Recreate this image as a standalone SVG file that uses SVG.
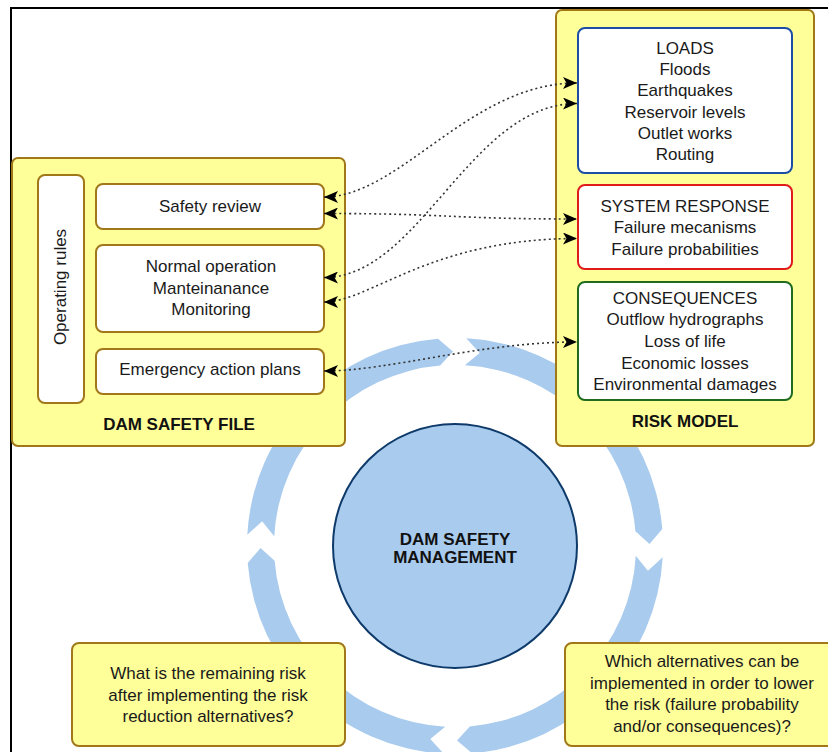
<svg xmlns="http://www.w3.org/2000/svg" xmlns:xlink="http://www.w3.org/1999/xlink" width="828" height="752" viewBox="0 0 828 752">
<style>
  .cont{fill:#FFFF99;stroke:#A0781A;stroke-width:2}
  .box{fill:#FFFFFF;stroke:#A0781A;stroke-width:2}
  .t{font-family:"Liberation Sans",Arial,sans-serif;font-size:17px;fill:#1a1a1a;text-anchor:middle}
  .b{font-weight:bold;fill:#111}
  .ring{fill:#A9CBEE}
  .conn{fill:none;stroke:#333;stroke-width:1.6;stroke-dasharray:2 3}
</style>
<defs>
  <marker id="ae" viewBox="0 0 14 12" refX="14" refY="6" markerWidth="14" markerHeight="12" markerUnits="userSpaceOnUse" orient="auto">
    <path d="M0,0 L14,6 L0,12 L3.5,6 Z" fill="#000"/>
  </marker>
  <marker id="as" viewBox="0 0 14 12" refX="0" refY="6" markerWidth="14" markerHeight="12" markerUnits="userSpaceOnUse" orient="auto">
    <path d="M14,0 L0,6 L14,12 L10.5,6 Z" fill="#000"/>
  </marker>
  <path id="seg" class="ring" d="M466.25 338.30 L479.71 353.08 L464.79 365.26 A181 181 0 0 1 635.39 531.17 L649.49 543.96 L662.30 528.96 A208 208 0 0 0 466.25 338.30 Z"/>
</defs>

<rect width="828" height="752" fill="#fff"/>
<path id="frame" d="M11 752 V8 H828" fill="none" stroke="#000" stroke-width="2"/>

<g id="cycle">
  <use xlink:href="#seg" href="#seg"/>
  <use xlink:href="#seg" href="#seg" transform="rotate(90 455 546)"/>
  <use xlink:href="#seg" href="#seg" transform="rotate(180 455 546)"/>
  <use xlink:href="#seg" href="#seg" transform="rotate(270 455 546)"/>
</g>

<g id="dam-safety-management">
  <circle cx="455" cy="546" r="122" fill="#A9CBEE" stroke="#0E3A6A" stroke-width="2"/>
  <text class="t b" x="455" y="545">DAM SAFETY</text>
  <text class="t b" x="455" y="563">MANAGEMENT</text>
</g>

<g id="dam-safety-file">
  <rect class="cont" x="12" y="158" width="333" height="288" rx="6"/>
  <text class="t b" x="179" y="430">DAM SAFETY FILE</text>
</g>
<g id="operating-rules">
  <rect class="box" x="38" y="175" width="46" height="228" rx="7"/>
  <text class="t" transform="translate(66 287) rotate(-90)" x="0" y="0">Operating rules</text>
</g>
<g id="safety-review">
  <rect class="box" x="96" y="184" width="228" height="45" rx="7"/>
  <text class="t" x="210" y="212">Safety review</text>
</g>
<g id="normal-operation">
  <rect class="box" x="96" y="245" width="228" height="87" rx="7"/>
  <text class="t" x="211" y="272">Normal operation</text>
  <text class="t" x="211" y="293.5">Manteinanance</text>
  <text class="t" x="211" y="315">Monitoring</text>
</g>
<g id="emergency-action-plans">
  <rect class="box" x="96" y="349" width="228" height="45" rx="7"/>
  <text class="t" x="210" y="375">Emergency action plans</text>
</g>

<g id="risk-model">
  <rect class="cont" x="556" y="10" width="258" height="436" rx="6"/>
  <text class="t b" x="685" y="427">RISK MODEL</text>
</g>
<g id="loads">
  <rect x="578" y="28" width="214" height="145" rx="7" fill="#fff" stroke="#1C4EA3" stroke-width="2"/>
  <text class="t" x="685" y="53.5">LOADS</text>
  <text class="t" x="685" y="74.5">Floods</text>
  <text class="t" x="685" y="96">Earthquakes</text>
  <text class="t" x="685" y="117.5">Reservoir levels</text>
  <text class="t" x="685" y="138.5">Outlet works</text>
  <text class="t" x="685" y="160">Routing</text>
</g>
<g id="system-response">
  <rect x="578" y="185" width="214" height="84" rx="7" fill="#fff" stroke="#E01B1B" stroke-width="2"/>
  <text class="t" x="685" y="212">SYSTEM RESPONSE</text>
  <text class="t" x="685" y="233">Failure mecanisms</text>
  <text class="t" x="685" y="254.5">Failure probabilities</text>
</g>
<g id="consequences">
  <rect x="578" y="282" width="214" height="118" rx="7" fill="#fff" stroke="#1F6B1F" stroke-width="2"/>
  <text class="t" x="685" y="303.5">CONSEQUENCES</text>
  <text class="t" x="685" y="325">Outflow hydrographs</text>
  <text class="t" x="685" y="346.5">Loss of life</text>
  <text class="t" x="685" y="368.5">Economic losses</text>
  <text class="t" x="685" y="390">Environmental damages</text>
</g>

<g id="question-remaining-risk">
  <rect class="cont" x="72" y="643" width="273" height="103" rx="7"/>
  <text class="t" x="208" y="679">What is the remaining risk</text>
  <text class="t" x="208" y="700.5">after implementing the risk</text>
  <text class="t" x="208" y="722">reduction alternatives?</text>
</g>
<g id="question-alternatives">
  <rect class="cont" x="565" y="643" width="274" height="103" rx="7"/>
  <text class="t" x="702" y="667">Which alternatives can be</text>
  <text class="t" x="702" y="688.5">implemented in order to lower</text>
  <text class="t" x="702" y="710">the risk (failure probability</text>
  <text class="t" x="702" y="732">and/or consequences)?</text>
</g>

<g id="connectors">
  <path class="conn" marker-start="url(#as)" marker-end="url(#ae)" d="M324 197 C400 197 470 83 577 83"/>
  <path class="conn" marker-start="url(#as)" marker-end="url(#ae)" d="M324 213.5 C450 213.5 450 219 577 219"/>
  <path class="conn" marker-start="url(#as)" marker-end="url(#ae)" d="M324 277.5 C420 277.5 470 103.5 577 103.5"/>
  <path class="conn" marker-start="url(#as)" marker-end="url(#ae)" d="M324 302 C370 302 430 238.5 577 238.5"/>
  <path class="conn" marker-start="url(#as)" marker-end="url(#ae)" d="M324 371 C390 371 480 342 577 342"/>
</g>
</svg>
